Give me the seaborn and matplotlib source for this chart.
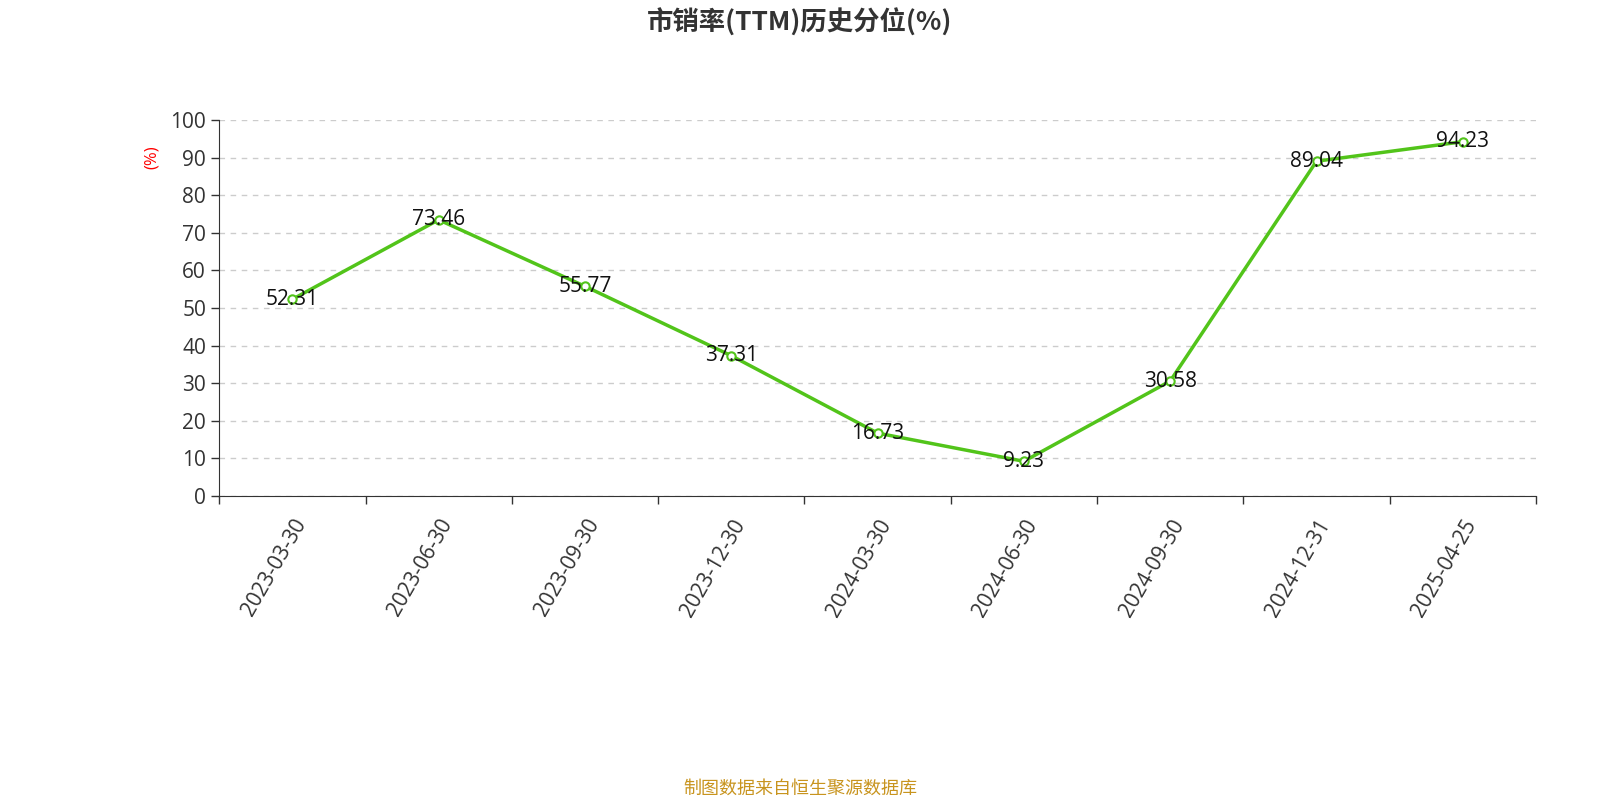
import matplotlib
matplotlib.use('Agg')
import matplotlib.pyplot as plt
import seaborn as sns
import numpy as np
import pandas as pd

dates = ['2023-03-30', '2023-06-30', '2023-09-30', '2023-12-30', '2024-03-30',
         '2024-06-30', '2024-09-30', '2024-12-31', '2025-04-25']
values = [52.31, 73.46, 55.77, 37.31, 16.73, 9.23, 30.58, 89.04, 94.23]

sns.set_style('white')
plt.rcParams['font.family'] = ['Open Sans', 'Noto Sans CJK SC', 'DejaVu Sans']

df = pd.DataFrame({'pos': np.arange(len(dates)), 'value': values})

fig = plt.figure(figsize=(16, 8), dpi=100)
ax = fig.add_axes([0.137, 0.38, 0.823, 0.47])

sns.lineplot(data=df, x='pos', y='value', ax=ax, color='#52c41a', linewidth=2.5,
             marker='o', markersize=6, markerfacecolor='white',
             markeredgecolor='#52c41a', markeredgewidth=1.5)
for x, v in zip(df['pos'], values):
    ax.text(x, v, f'{v:g}', ha='center', va='center', fontsize=15, color='#111111')

ax.set_xlim(-0.5, len(dates) - 0.5)
ax.set_ylim(0, 100)
ax.set_yticks(range(0, 101, 10))
ax.yaxis.grid(True, linestyle=(0, (4, 4)), color='#cccccc', linewidth=1)
ax.set_xticks(df['pos'])
ax.set_xticklabels(dates, rotation=60, ha='right', rotation_mode='anchor', fontsize=15, color='#333333')
ax.set_xticks(np.arange(-0.5, len(dates)), minor=True)
ax.tick_params(axis='x', which='major', length=0, pad=14, bottom=True)
ax.tick_params(axis='x', which='minor', length=6, width=1, color='#333333', bottom=True)
ax.tick_params(axis='y', length=6, width=1, labelsize=15, labelcolor='#333333', color='#333333', left=True)
ax.set_xlabel('')
ax.set_ylabel('(%)', color='red', fontsize=12)
ax.yaxis.set_label_coords(-0.045, 0.9)
for s in ['top', 'right']:
    ax.spines[s].set_visible(False)
for s in ['left', 'bottom']:
    ax.spines[s].set_color('#333333')

fig.text(0.5, 0.972, '市销率(TTM)历史分位(%)', ha='center', va='center', fontsize=19,
         fontweight='bold', color='#333333', family=['Noto Sans CJK SC', 'DejaVu Sans'])
fig.text(0.5, 0.014, '制图数据来自恒生聚源数据库', ha='center', va='center', fontsize=13,
         color='#c8941e', family=['Noto Sans CJK SC', 'DejaVu Sans'])

fig.savefig('out.png', dpi=100)
